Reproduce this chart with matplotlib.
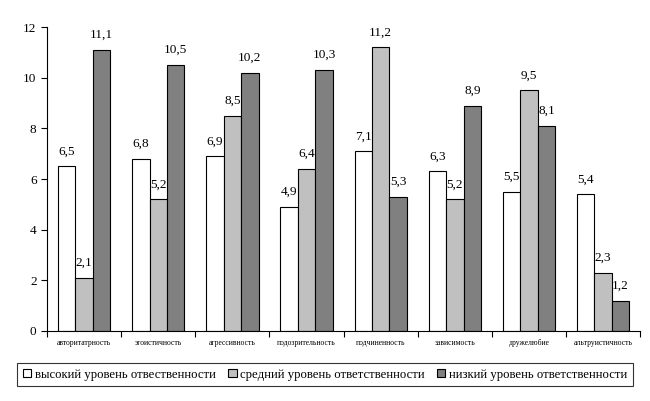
import matplotlib
matplotlib.use("Agg")
import matplotlib.pyplot as plt
import numpy as np

categories = ["авторитатрность", "эгоистичность", "агрессивность", "подозрительность",
              "подчиненность", "зависимость", "дружелюбие", "альтруистичность"]
high = [6.5, 6.8, 6.9, 4.9, 7.1, 6.3, 5.5, 5.4]
mid = [2.1, 5.2, 8.5, 6.4, 11.2, 5.2, 9.5, 2.3]
low = [11.1, 10.5, 10.2, 10.3, 5.3, 8.9, 8.1, 1.2]
series_names = ["высокий уровень отвественности", "средний уровень ответственности",
                "низкий уровень ответственности"]
colors = ["#FFFFFF", "#C0C0C0", "#808080"]

plt.rcParams['font.family'] = ['Liberation Serif', 'DejaVu Serif']

fig = plt.figure(figsize=(6.5, 4.01), dpi=100)
ax = fig.add_axes([0.0723, 0.1746, 0.9127, 0.758])

x = np.arange(len(categories))
w = 0.235
handles = []
for i, (vals, c) in enumerate(zip([high, mid, low], colors)):
    bars = ax.bar(x + (i - 1) * w, vals, w, color=c, edgecolor="black", linewidth=0.8)
    handles.append(bars)
    for xi, v in zip(x + (i - 1) * w, vals):
        ax.text(xi, v + 0.35, f"{v:.1f}".replace(".", ","), ha="center", va="bottom",
                fontsize=9.5)

ax.set_xlim(-0.5, len(categories) - 0.5)
ax.set_ylim(0, 12)
ax.set_yticks(range(0, 13, 2))
ax.tick_params(axis="y", labelsize=9.5, direction="out", length=4, width=0.8)
ax.set_xticks(np.arange(len(categories) + 1) - 0.5, minor=False)
ax.set_xticklabels([])
ax.set_xticks(x, minor=True)
ax.set_xticklabels(categories, minor=True, fontsize=5.5)
ax.tick_params(axis="x", which="major", direction="out", length=4, width=0.8)
ax.tick_params(axis="x", which="minor", length=0, pad=6)
for s in ["top", "right"]:
    ax.spines[s].set_visible(False)
for s in ["left", "bottom"]:
    ax.spines[s].set_linewidth(0.8)

leg = fig.legend(handles, series_names, loc="center", bbox_to_anchor=(0.5, 0.066),
                 ncol=3, fontsize=9.2, frameon=True, fancybox=False, edgecolor="black",
                 handlelength=0.65, handleheight=0.65, handletextpad=0.25, columnspacing=1.0,
                 borderpad=0.45)
leg.get_frame().set_linewidth(0.8)

fig.savefig("out.png", dpi=100)
